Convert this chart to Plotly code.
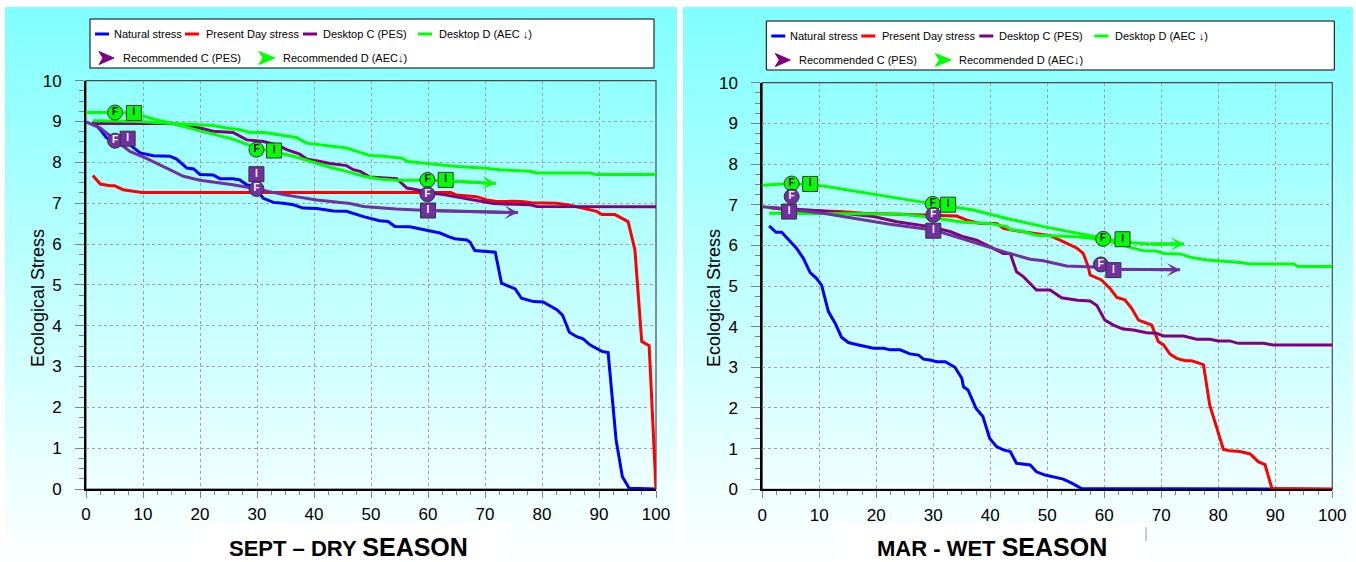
import plotly.graph_objects as go

W, H = 1356, 562

# ---------------- SEPT – DRY SEASON ----------------
dry_natural_x = [1.2, 2.5, 3.6, 5.0, 7.7, 9.5, 11.8, 14.7, 15.9, 17.7, 18.9, 20.0, 22.3, 23.5, 25.8, 27.0, 28.2, 29.4, 31.1, 32.9,
                 34.6, 36.4, 38.1, 40.5, 43.4, 45.7, 48.7, 50.4, 51.5, 53.0, 54.2, 56.8, 58.6, 60.4, 62.1, 63.6, 64.7, 66.8, 67.4, 68.2,
                 69.7, 71.8, 72.9, 74.1, 75.3, 76.4, 78.5, 80.2, 81.1, 82.6, 83.6, 84.8, 86.1, 87.2, 88.4, 89.6, 90.5, 91.6, 92.2, 93.0,
                 94.1, 95.3, 100]
dry_natural_y = [9.0, 8.8, 8.6, 8.5, 8.43, 8.23, 8.16, 8.15, 8.08, 7.86, 7.84, 7.7, 7.69, 7.6, 7.6, 7.57, 7.45, 7.41, 7.12, 7.02,
                 7.0, 6.96, 6.88, 6.87, 6.81, 6.80, 6.67, 6.62, 6.57, 6.55, 6.43, 6.42, 6.37, 6.33, 6.27, 6.18, 6.13, 6.10, 6.04, 5.84,
                 5.82, 5.80, 5.04, 4.96, 4.90, 4.67, 4.59, 4.58, 4.51, 4.39, 4.26, 3.84, 3.73, 3.68, 3.53, 3.45, 3.37, 3.34, 2.35, 1.2,
                 0.30, 0.02, 0.0]
dry_present_x = [1.2, 2.5, 4.2, 5.0, 6.5, 8.3, 9.8, 64.0, 65.0, 68.5, 70.3, 71.8, 76.4, 78.2, 82.6, 84.9, 87.2, 89.6, 90.5, 92.8,
                 95.1, 96.3, 97.5, 98.8, 100]
dry_present_y = [7.68, 7.47, 7.43, 7.43, 7.33, 7.30, 7.26, 7.26, 7.20, 7.16, 7.08, 7.05, 7.04, 7.01, 7.00, 6.95, 6.88, 6.80, 6.72, 6.72,
                 6.55, 5.86, 3.61, 3.51, 0.0]
dry_deskC_x = [1.2, 15.3, 17.7, 20.0, 22.3, 25.8, 28.2, 31.1, 33.5, 35.2, 37.5, 38.7, 41.1, 42.8, 45.7, 46.9, 48.1, 49.8, 54.5, 56.3,
               58.0, 60.4, 62.7, 65.0, 67.9, 71.5, 77.9, 79.1, 100]
dry_deskC_y = [8.95, 8.95, 8.88, 8.84, 8.76, 8.73, 8.55, 8.51, 8.43, 8.31, 8.20, 8.08, 8.02, 7.97, 7.92, 7.82, 7.78, 7.64, 7.60, 7.37,
               7.33, 7.25, 7.21, 7.15, 7.08, 6.99, 6.96, 6.92, 6.91]
dry_deskD_x = [1.2, 9.5, 15.3, 20.0, 22.3, 24.7, 27.0, 28.8, 31.3, 33.5, 35.2, 36.9, 38.7, 41.1, 43.4, 45.7, 47.5, 49.8, 52.2, 55.4,
               56.5, 60.4, 65.0, 69.7, 72.6, 77.9, 79.1, 88.4, 89.6, 100]
dry_deskD_y = [9.02, 9.00, 8.95, 8.91, 8.90, 8.84, 8.80, 8.73, 8.73, 8.68, 8.64, 8.61, 8.47, 8.43, 8.39, 8.35, 8.27, 8.17, 8.15, 8.10,
               8.02, 7.97, 7.90, 7.86, 7.82, 7.78, 7.74, 7.74, 7.70, 7.70]
dry_recC_x = [0, 2.5, 3.6, 5.1, 7.7, 10.6, 14.2, 17.1, 20.0, 25.8, 29.9, 34.6, 40.5, 46.3, 48.7, 54.4, 60.0, 75.8]
dry_recC_y = [8.99, 8.84, 8.72, 8.55, 8.27, 8.10, 7.86, 7.66, 7.56, 7.45, 7.35, 7.21, 7.08, 6.99, 6.92, 6.86, 6.82, 6.77]
dry_recD_x = [0, 5.1, 8.4, 12.4, 15.3, 20.0, 25.8, 29.9, 36.4, 40.5, 42.8, 45.7, 48.7, 51.5, 54.4, 58.6, 63.1, 71.9]
dry_recD_y = [9.22, 9.22, 9.20, 9.04, 8.95, 8.77, 8.57, 8.35, 8.15, 7.98, 7.88, 7.78, 7.66, 7.59, 7.56, 7.56, 7.55, 7.48]
dry_F_green_x, dry_F_green_y = [5.1, 29.9, 59.9], [9.22, 8.31, 7.57]
dry_I_green_x, dry_I_green_y = [8.4, 33.0, 63.1], [9.21, 8.29, 7.57]
dry_F_purple_x, dry_F_purple_y = [5.1, 29.9, 59.9], [8.53, 7.35, 7.22]
dry_I_purple_x, dry_I_purple_y = [7.3, 29.9, 60.0], [8.58, 7.71, 6.82]

# ---------------- MAR - WET SEASON ----------------
wet_natural_x = [1.2, 2.4, 3.4, 4.6, 6.0, 7.2, 8.4, 9.5, 10.4, 11.6, 12.8, 13.9, 15.1, 16.5, 18.3, 19.5, 21.3, 22.4, 24.2, 25.9,
                 27.4, 28.3, 29.4, 30.6, 32.1, 33.8, 35.0, 35.3, 36.1, 37.5, 38.7, 39.9, 41.1, 42.3, 43.5, 44.6, 47.0, 48.1, 49.6, 51.1,
                 52.8, 54.3, 56.0, 100]
wet_natural_y = [6.48, 6.32, 6.32, 6.13, 5.93, 5.68, 5.33, 5.19, 5.02, 4.37, 4.08, 3.74, 3.61, 3.56, 3.51, 3.47, 3.47, 3.43, 3.43, 3.33,
                 3.30, 3.20, 3.18, 3.14, 3.14, 3.00, 2.73, 2.52, 2.44, 1.99, 1.79, 1.25, 1.05, 0.97, 0.93, 0.64, 0.60, 0.43, 0.35, 0.31,
                 0.25, 0.15, 0.02, 0.0]
wet_present_x = [1.2, 4.6, 13.6, 17.7, 25.3, 34.1, 35.9, 38.2, 41.1, 42.3, 43.5, 47.0, 50.5, 52.8, 55.2, 56.3, 57.2, 57.5, 59.5, 61.0,
                 62.2, 63.6, 64.8, 66.0, 67.1, 68.3, 69.5, 70.4, 71.5, 72.7, 74.2, 75.3, 76.5, 77.4, 78.5, 79.7, 80.9, 82.0, 83.8, 85.6,
                 87.0, 88.2, 89.4, 100]
wet_present_y = [6.93, 6.87, 6.83, 6.79, 6.76, 6.72, 6.62, 6.54, 6.54, 6.42, 6.38, 6.31, 6.24, 6.09, 5.93, 5.80, 5.47, 5.27, 5.15, 4.94,
                 4.72, 4.66, 4.45, 4.16, 4.11, 4.04, 3.63, 3.55, 3.33, 3.22, 3.16, 3.16, 3.11, 3.06, 2.07, 1.50, 0.98, 0.95, 0.93, 0.87,
                 0.68, 0.61, 0.02, 0.0]
wet_deskC_x = [1.2, 10.0, 19.5, 23.6, 29.4, 32.9, 35.3, 37.6, 39.9, 42.3, 43.5, 44.6, 45.8, 48.1, 50.5, 52.5, 55.3, 57.5, 58.7, 60.1,
               61.6, 63.3, 65.1, 67.4, 69.1, 70.4, 73.9, 76.2, 78.5, 80.0, 82.0, 83.5, 87.9, 89.6, 100]
wet_deskC_y = [6.93, 6.85, 6.71, 6.58, 6.46, 6.34, 6.21, 6.13, 5.97, 5.80, 5.80, 5.35, 5.23, 4.90, 4.90, 4.71, 4.65, 4.63, 4.52, 4.16,
               4.04, 3.94, 3.92, 3.85, 3.84, 3.77, 3.77, 3.69, 3.69, 3.65, 3.65, 3.59, 3.59, 3.55, 3.55]
wet_deskD_x = [1.2, 24.0, 28.3, 32.9, 35.3, 39.9, 42.9, 43.5, 45.2, 48.1, 55.2, 58.1, 62.2, 64.5, 66.8, 69.1, 70.4, 73.3, 75.0, 78.0,
               80.9, 83.8, 85.6, 93.2, 94.0, 100]
wet_deskD_y = [6.79, 6.77, 6.71, 6.62, 6.57, 6.54, 6.46, 6.39, 6.36, 6.25, 6.21, 6.17, 6.05, 5.95, 5.87, 5.86, 5.80, 5.79, 5.71, 5.64,
               5.61, 5.58, 5.54, 5.54, 5.48, 5.48]
wet_recC_x = [0, 4.7, 10.7, 16.6, 22.4, 30.0, 37.0, 42.9, 47.0, 49.3, 53.4, 59.4, 61.6, 73.3]
wet_recC_y = [6.95, 6.89, 6.79, 6.66, 6.52, 6.38, 6.07, 5.82, 5.66, 5.62, 5.49, 5.46, 5.41, 5.40]
wet_recD_x = [0, 5.15, 10.7, 16.6, 22.4, 29.9, 37.0, 42.9, 49.3, 55.2, 59.8, 63.2, 68.0, 74.0]
wet_recD_y = [7.48, 7.52, 7.46, 7.32, 7.20, 7.02, 6.87, 6.66, 6.46, 6.30, 6.16, 6.08, 6.03, 6.03]
wet_F_green_x, wet_F_green_y = [5.15, 29.9, 59.8], [7.52, 7.02, 6.16]
wet_I_green_x, wet_I_green_y = [8.4, 32.6, 63.2], [7.51, 7.00, 6.15]
wet_F_purple_x, wet_F_purple_y = [5.15, 30.0, 59.4], [7.20, 6.75, 5.53]
wet_I_purple_x, wet_I_purple_y = [4.7, 30.0, 61.6], [6.83, 6.36, 5.39]

series_names = ["Natural stress", "Present Day stress", "Desktop C (PES)", "Desktop D (AEC ↓)",
                "Recommended C (PES)", "Recommended D (AEC↓)"]
panel_titles = ["SEPT – DRY <span style='font-size:25px'>SEASON</span>",
                "MAR - WET <span style='font-size:25px'>SEASON</span>"]
y_title = "Ecological Stress"
x_ticks = [0, 10, 20, 30, 40, 50, 60, 70, 80, 90, 100]
y_ticks = [0, 1, 2, 3, 4, 5, 6, 7, 8, 9, 10]

C_NAT, C_PD, C_DC, C_DD, C_RC, C_RD = "#0000FF", "#FF0000", "#800080", "#00FF00", "#7030A0", "#00FF00"
FONT = "Liberation Sans, Arial, sans-serif"


def px(x):
    return x / W


def py(y):
    return 1 - y / H


panels = [
    dict(xa="x", ya="y", x0=86.0, x1=656.0, y0=80.7, y1=489.0, bg=(5, 677), leg_top=19, leg_w=568,
         title_cx=348, box=(196, 505), ytitle_x=38,
         lines=[(dry_natural_x, dry_natural_y), (dry_present_x, dry_present_y), (dry_deskC_x, dry_deskC_y),
                (dry_deskD_x, dry_deskD_y), (dry_recC_x, dry_recC_y), (dry_recD_x, dry_recD_y)],
         marks=[(dry_F_green_x, dry_F_green_y, dry_I_green_x, dry_I_green_y),
                (dry_F_purple_x, dry_F_purple_y, dry_I_purple_x, dry_I_purple_y)]),
    dict(xa="x2", ya="y2", x0=762.3, x1=1332.3, y0=82.7, y1=489.3, bg=(683, 1353), leg_top=21, leg_w=572,
         title_cx=992, box=(838, 1146), ytitle_x=714,
         lines=[(wet_natural_x, wet_natural_y), (wet_present_x, wet_present_y), (wet_deskC_x, wet_deskC_y),
                (wet_deskD_x, wet_deskD_y), (wet_recC_x, wet_recC_y), (wet_recD_x, wet_recD_y)],
         marks=[(wet_F_green_x, wet_F_green_y, wet_I_green_x, wet_I_green_y),
                (wet_F_purple_x, wet_F_purple_y, wet_I_purple_x, wet_I_purple_y)]),
]

colors = [C_NAT, C_PD, C_DC, C_DD, C_RC, C_RD]

fig = go.Figure()
shapes = []
annotations = []

for p in panels:
    # background gradient of the panel
    n = 45
    top, bot = 7.0, 562.0
    for i in range(n):
        ya = top + (bot - top) * i / n
        yb = top + (bot - top) * (i + 1) / n + 0.6
        t = (i + 0.5) / n
        c = int(round(128 + 127 * t))
        shapes.append(dict(type="rect", xref="paper", yref="paper", x0=px(p["bg"][0]), x1=px(p["bg"][1]),
                           y0=py(yb), y1=py(ya), fillcolor=f"rgb({c},255,255)", line=dict(width=0), layer="below"))
    # white box behind bottom title
    shapes.append(dict(type="rect", xref="paper", yref="paper", x0=px(p["box"][0]), x1=px(p["box"][1]),
                       y0=0, y1=py(524), fillcolor="white", line=dict(width=0), layer="below"))
    # plot frame (top/right)
    shapes.append(dict(type="rect", xref="paper", yref="paper", x0=px(p["x0"]), x1=px(p["x1"]),
                       y0=py(p["y1"]), y1=py(p["y0"]), line=dict(color="#4a4a4a", width=1.2), layer="below"))

    # lines
    for k, ((xs, ys), col) in enumerate(zip(p["lines"], colors)):
        fig.add_trace(go.Scatter(x=xs, y=ys, mode="lines", name=series_names[k], showlegend=False,
                                 line=dict(color=col, width=3), xaxis=p["xa"], yaxis=p["ya"]))
    # arrow heads on recommended lines
    for (xs, ys), col in [(p["lines"][4], C_RC), (p["lines"][5], C_RD)]:
        annotations.append(dict(x=xs[-1], y=ys[-1], ax=xs[-2], ay=ys[-2], xref=p["xa"], yref=p["ya"],
                                axref=p["xa"], ayref=p["ya"], text="", showarrow=True, arrowhead=3,
                                arrowsize=0.75, arrowwidth=3, arrowcolor=col, standoff=0))
    # F / I markers
    for (fx, fy, ix, iy), fill, tcol in [(p["marks"][0], C_RD, "black"), (p["marks"][1], C_RC, "white")]:
        fig.add_trace(go.Scatter(x=fx, y=fy, mode="markers+text", text=["F"] * len(fx), textposition="middle center",
                                 textfont=dict(family=FONT, size=10, color=tcol, weight="bold"), showlegend=False,
                                 marker=dict(symbol="circle", size=15, color=fill, line=dict(color="#333333", width=1)),
                                 xaxis=p["xa"], yaxis=p["ya"], hoverinfo="skip"))
        fig.add_trace(go.Scatter(x=ix, y=iy, mode="markers+text", text=["I"] * len(ix), textposition="middle center",
                                 textfont=dict(family=FONT, size=10, color=tcol, weight="bold"), showlegend=False,
                                 marker=dict(symbol="square", size=15, color=fill, line=dict(color="#333333", width=1)),
                                 xaxis=p["xa"], yaxis=p["ya"], hoverinfo="skip"))

    # legend box
    x0 = p["x0"]
    lt = p["leg_top"]
    shapes.append(dict(type="rect", xref="paper", yref="paper", x0=px(x0 + 4), x1=px(x0 + p["leg_w"]),
                       y0=py(lt + 49), y1=py(lt), fillcolor="white", line=dict(color="black", width=1), layer="below"))
    r1 = lt + 15
    r2 = lt + 39
    row1 = [(9, 23, 26), (99, 113, 118), (217, 231, 235), (332, 346, 351)]
    for k, (a, b, tx) in enumerate(row1):
        shapes.append(dict(type="line", xref="paper", yref="paper", x0=px(x0 + a), x1=px(x0 + b),
                           y0=py(r1), y1=py(r1), line=dict(color=colors[k], width=3)))
        annotations.append(dict(x=px(x0 + tx), y=py(r1), xref="paper", yref="paper", text=series_names[k],
                                showarrow=False, xanchor="left", yanchor="middle",
                                font=dict(family=FONT, size=11, color="black")))
    row2 = [(13, 28, 35, C_DC), (173, 189, 195, C_RD)]
    for k, (a, b, tx, col) in enumerate(row2):
        xa_, xb_ = x0 + a, x0 + b
        path = (f"M {px(xa_)},{py(r2 - 6.5)} L {px(xb_)},{py(r2)} L {px(xa_)},{py(r2 + 6.5)} "
                f"L {px(xa_ + 4)},{py(r2)} Z")
        shapes.append(dict(type="path", xref="paper", yref="paper", path=path, fillcolor=col,
                           line=dict(color=col, width=1)))
        annotations.append(dict(x=px(x0 + tx), y=py(r2), xref="paper", yref="paper", text=series_names[4 + k],
                                showarrow=False, xanchor="left", yanchor="middle",
                                font=dict(family=FONT, size=11, color="black")))

    # y axis title and bottom title
    annotations.append(dict(x=px(p["ytitle_x"]), y=py(298), xref="paper", yref="paper", text=y_title,
                            textangle=-90, showarrow=False, xanchor="center", yanchor="middle",
                            font=dict(family=FONT, size=18, color="black")))

for k, p in enumerate(panels):
    annotations.append(dict(x=px(p["title_cx"]), y=py(547), xref="paper", yref="paper",
                            text=f"<b>{panel_titles[k]}</b>", showarrow=False, xanchor="center", yanchor="middle",
                            font=dict(family=FONT, size=22, color="black")))

# small cursor mark in the right title box
shapes.append(dict(type="line", xref="paper", yref="paper", x0=px(1146), x1=px(1146), y0=py(541), y1=py(527),
                   line=dict(color="#999999", width=1)))


def xaxis_cfg(p):
    return dict(domain=[px(p["x0"]), px(p["x1"])], anchor=p["ya"], range=[0, 100], tickvals=x_ticks,
                ticks="outside", ticklen=7, tickcolor="#808080", tickwidth=1,
                showline=True, linecolor="black", linewidth=2, zeroline=False,
                showgrid=True, gridcolor="#a0a0a0", griddash="dot", gridwidth=1,
                minor=dict(dtick=2.5, tick0=0, ticks="outside", ticklen=4, tickcolor="#808080", showgrid=False),
                tickfont=dict(family=FONT, size=17, color="black"), ticklabelstandoff=2, fixedrange=True,
                automargin=False)


def yaxis_cfg(p):
    return dict(domain=[py(p["y1"]), py(p["y0"])], anchor=p["xa"], range=[0, 10], tickvals=y_ticks,
                ticks="outside", ticklen=9, tickcolor="#808080", tickwidth=1,
                showline=True, linecolor="black", linewidth=2, zeroline=False,
                showgrid=True, gridcolor="#a0a0a0", griddash="dot", gridwidth=1,
                minor=dict(dtick=0.25, tick0=0, ticks="outside", ticklen=5, tickcolor="#808080", showgrid=False),
                tickfont=dict(family=FONT, size=17, color="black"), ticklabelstandoff=10, fixedrange=True,
                automargin=False)


fig.update_layout(
    width=W, height=H, autosize=False,
    margin=dict(l=0, r=0, t=0, b=0, pad=0),
    paper_bgcolor="white", plot_bgcolor="rgba(0,0,0,0)",
    showlegend=False,
    font=dict(family=FONT, color="black"),
    xaxis=xaxis_cfg(panels[0]), yaxis=yaxis_cfg(panels[0]),
    xaxis2=xaxis_cfg(panels[1]), yaxis2=yaxis_cfg(panels[1]),
    shapes=shapes, annotations=annotations,
)

fig.write_html("out.html", post_script="document.body.style.margin='0';document.body.style.overflow='hidden';")
